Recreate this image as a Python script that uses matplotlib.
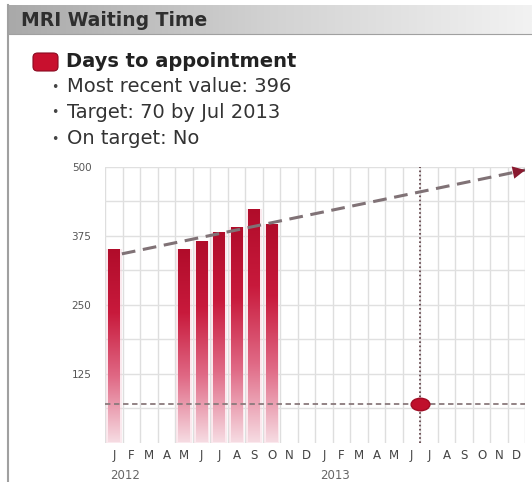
import matplotlib
matplotlib.use("Agg")
import matplotlib.pyplot as plt
import numpy as np
from matplotlib.colors import LinearSegmentedColormap
from matplotlib.patches import FancyBboxPatch
from matplotlib.path import Path
from matplotlib.transforms import Affine2D

# ---------------- data ----------------
month_labels = ["J", "F", "M", "A", "M", "J", "J", "A", "S", "O", "N", "D"] * 2
year_labels = ["2012", "2013"]
bar_months = [0, 4, 5, 6, 7, 8, 9]          # Jan, May..Oct 2012
bar_values = [350, 350, 365, 382, 391, 424, 396]
target_value = 70
target_month = 18                            # Jul 2013 (month boundary)
trend_x = [0.95, 24.0]
trend_y = [342, 494]
y_ticks = [125, 250, 375, 500]

W, H = 532, 482
fig = plt.figure(figsize=(W / 100, H / 100), dpi=100)
fig.patch.set_facecolor("white")

def fx(x):
    return x / W

def fy(y):
    return 1 - y / H

# ---------------- header & panel ----------------
hdr = fig.add_axes([fx(8), fy(34), 1 - fx(8), (34 - 5) / H])
grad = np.linspace(0, 1, 256).reshape(1, -1)
hdr.imshow(grad, aspect="auto", extent=[0, 1, 0, 1],
           cmap=LinearSegmentedColormap.from_list("h", ["#a9a9a9", "#d2d2d2", "#f2f2f2"]))
hdr.set_xlim(0, 1); hdr.set_ylim(0, 1)
hdr.axis("off")
fig.text(fx(21), fy(20.5), "MRI Waiting Time", fontsize=13.5, fontweight="bold",
         color="#2e2e2e", va="center", ha="left")
fig.add_artist(plt.Line2D([fx(8), fx(8)], [fy(5), 0], color="#a0a0a0", lw=1.5))
fig.add_artist(plt.Line2D([fx(8), 1], [fy(34), fy(34)], color="#a0a0a0", lw=0.8))

# legend
fig.add_artist(FancyBboxPatch((fx(33), fy(71)), (58 - 33) / W, (71 - 53) / H,
                              boxstyle="round,pad=0,rounding_size=0.009",
                              facecolor="#c8102e", edgecolor="#8a0a20", lw=0.8))
fig.text(fx(66), fy(61.5), "Days to appointment", fontsize=14, fontweight="bold",
         color="#222222", va="center", ha="left")
for yy, txt in [(87, "Most recent value: 396"),
                (112.5, "Target: 70 by Jul 2013"),
                (139, "On target: No")]:
    fig.text(fx(51), fy(yy), "\u2022", fontsize=9, color="#444444",
             va="center", ha="left")
    fig.text(fx(67), fy(yy), txt, fontsize=14, color="#333333",
             va="center", ha="left")

# ---------------- main axes ----------------
x0, x1 = 105.25, 105.25 + 24 * 17.5
yb, yt = 442.5, 166.7
ax = fig.add_axes([fx(x0), fy(yb), (x1 - x0) / W, (yb - yt) / H])
ax.set_xlim(0, 24)
ax.set_ylim(0, 500)
for s in ax.spines.values():
    s.set_visible(False)

for gx in range(0, 25):
    ax.axvline(gx, color="#dedede", lw=1.0, zorder=0)
for gy in np.arange(62.5, 501, 62.5):
    ax.axhline(gy, color="#e0e0e0", lw=1.0, zorder=0)

cmap = LinearSegmentedColormap.from_list("bar", ["#f6dbe2", "#e06a86", "#c81a3c", "#b00c2a"])
bx = [m + 0.5 for m in bar_months]
# soft glow
ax.bar(bx, bar_values, width=0.86, color="#f8d0da", alpha=0.45, zorder=1, lw=0)
bars = ax.bar(bx, bar_values, width=0.66, color="none", lw=0, zorder=2)
gimg = np.linspace(0, 1, 256).reshape(-1, 1)
for b in bars:
    left, w, h = b.get_x(), b.get_width(), b.get_height()
    im = ax.imshow(gimg, aspect="auto", origin="lower", cmap=cmap,
                   extent=[left, left + w, 0, h], zorder=2)
    im.set_clip_path(b)
ax.set_xlim(0, 24)
ax.set_ylim(0, 500)

# target lines
ax.axhline(target_value, color="#8a7a7c", lw=1.3, ls=(0, (3, 2)), zorder=3)
ax.plot([target_month, target_month], [0, 500], color="#5a3a40", lw=1.2,
        ls=(0, (1, 1.5)), zorder=3)
ell = Path.unit_circle().transformed(Affine2D().scale(1.5, 1.0))
ax.plot([target_month], [target_value], marker=ell, markersize=13.5, color="#c0102c",
        markeredgecolor="#a00c24", zorder=5, lw=0)

# trend arrow
ax.plot(trend_x, trend_y, color="#807276", lw=2.2, ls=(0, (4.5, 2.5)), zorder=4,
        dash_capstyle="butt")
ax.annotate("", xy=(trend_x[1], trend_y[1]),
            xytext=(trend_x[1] - 0.9, trend_y[1] - 0.9 * (trend_y[1] - trend_y[0]) / (trend_x[1] - trend_x[0])),
            arrowprops=dict(arrowstyle="-|>,head_length=0.9,head_width=0.45",
                            color="#8a1a30", lw=0, shrinkA=0, shrinkB=0),
            zorder=6, annotation_clip=False)

ax.set_yticks(y_ticks)
ax.set_yticklabels([str(t) for t in y_ticks], fontsize=7.5, color="#555555")
ax.tick_params(axis="y", length=0, pad=10)
ax.set_xticks([i + 0.5 for i in range(24)])
ax.set_xticklabels(month_labels, fontsize=8.5, color="#444444")
ax.tick_params(axis="x", length=0, pad=5)
for i, yl in enumerate(year_labels):
    ax.text(12 * i + 0.5 - 0.2, -0.095, yl, transform=ax.get_xaxis_transform(),
            fontsize=8.5, color="#666666", ha="left", va="top")

fig.savefig("out.png", dpi=100, facecolor="white")
